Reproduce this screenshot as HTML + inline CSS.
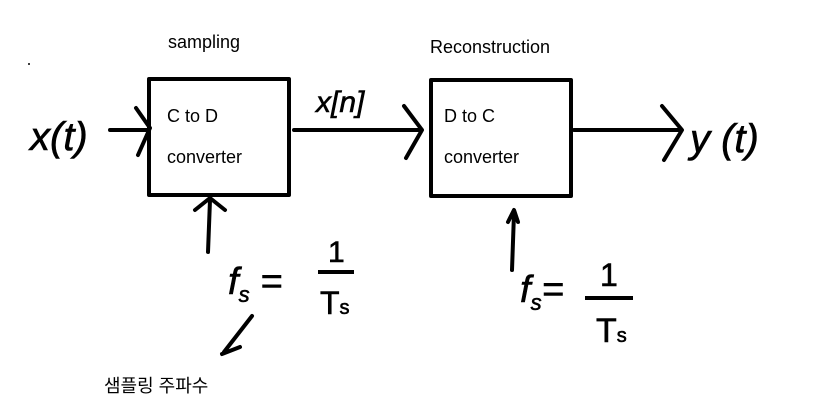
<!DOCTYPE html>
<html><head><meta charset="utf-8"><style>
body{margin:0;background:#fff;width:816px;height:413px;overflow:hidden}
svg text{font-family:"Liberation Sans","Noto Sans CJK KR",sans-serif}
.h{stroke:#000;stroke-width:0.6}
</style></head><body>
<svg width="816" height="413" viewBox="0 0 816 413" xmlns="http://www.w3.org/2000/svg">
<g fill="none" stroke="#000" stroke-width="4" stroke-linecap="round" stroke-linejoin="round">
<rect x="149" y="79" width="140" height="116"/>
<rect x="431" y="80" width="140" height="116"/>
<path d="M110 130H148M136 108L150 128L138 155"/>
<path d="M294 130H420M404 106L422 130L406 158"/>
<path d="M574 130H680M662 106L682 130L664 160"/>
<path d="M208 252L210 200M195 210L210 198L225 210"/>
<path d="M512 270L514 213M508 222L514 210L518 222"/>
<path d="M252 316L224 352M222 354L240 347"/>
</g>
<text x="168" y="48" font-size="18">sampling</text>
<text x="430" y="53" font-size="18">Reconstruction</text>
<text x="167" y="122" font-size="18">C to D</text>
<text x="167" y="163" font-size="18">converter</text>
<text x="444" y="122" font-size="18">D to C</text>
<text x="444" y="163" font-size="18">converter</text>
<text class="h" x="30" y="150" font-size="40" font-family="Liberation Serif,serif" font-style="italic">x(t)</text>
<text class="h" x="316" y="112" font-size="30" font-family="Liberation Serif,serif" font-style="italic">x[n]</text>
<text class="h" x="690" y="152" font-size="40" font-family="Liberation Serif,serif" font-style="italic">y (t)</text>
<text class="h" x="228" y="294" font-size="38" font-family="Liberation Serif,serif" font-style="italic">f<tspan font-size="22" dy="8">s</tspan><tspan dy="-8"> =</tspan></text>
<rect x="318" y="270" width="36" height="4"/>
<text class="h" x="328" y="262" font-size="30">1</text>
<text class="h" x="320" y="314" font-size="32">T<tspan font-size="20">s</tspan></text>
<text class="h" x="520" y="302" font-size="38" font-family="Liberation Serif,serif" font-style="italic">f<tspan font-size="22" dy="8">s</tspan><tspan dy="-8">=</tspan></text>
<rect x="585" y="296" width="48" height="4"/>
<text class="h" x="600" y="286" font-size="32">1</text>
<text class="h" x="596" y="342" font-size="34">T<tspan font-size="20">s</tspan></text>
<text x="104" y="392" font-size="18">샘플링 주파수</text>
<circle cx="29" cy="64" r="1" fill="#000"/>
</svg>
</body></html>
